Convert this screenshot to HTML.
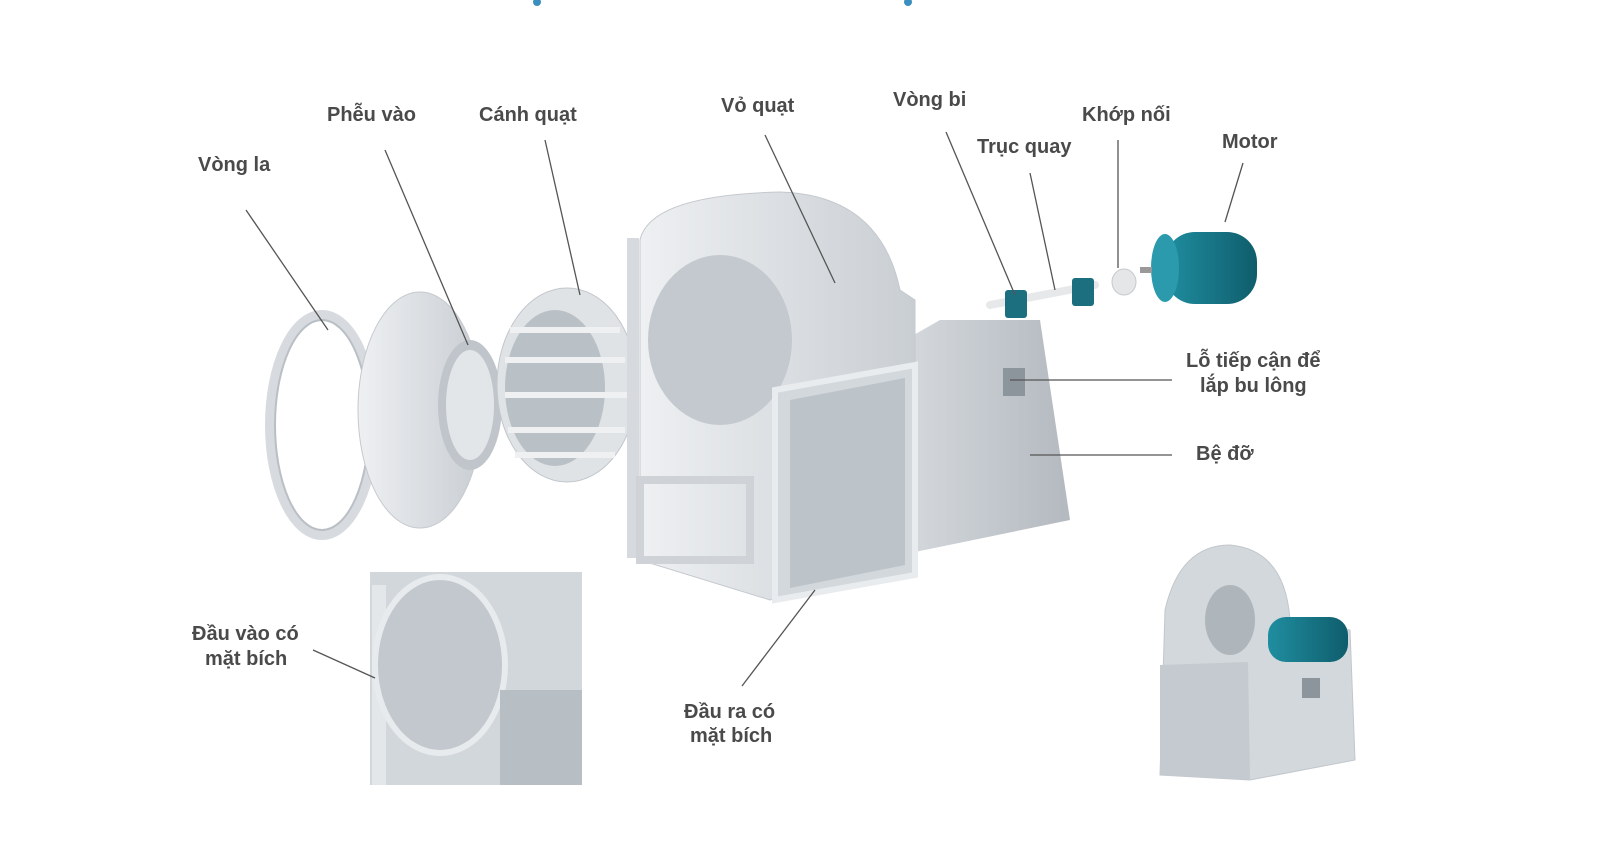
<!DOCTYPE html>
<html><head><meta charset="utf-8"><style>
html,body{margin:0;padding:0;background:#fff;width:1600px;height:850px;overflow:hidden}
svg{display:block}
text{font-family:"Liberation Sans",sans-serif;font-weight:bold;font-size:20px;fill:#4a4a4a}
</style></head><body>
<svg width="1600" height="850" viewBox="0 0 1600 850" xmlns="http://www.w3.org/2000/svg">
<defs>
<linearGradient id="g1" x1="0" x2="1"><stop offset="0" stop-color="#eef0f2"/><stop offset="1" stop-color="#c9ced3"/></linearGradient>
<linearGradient id="g2" x1="0" x2="1"><stop offset="0" stop-color="#d5d9dd"/><stop offset="1" stop-color="#b3b9bf"/></linearGradient>
<linearGradient id="tl" x1="0" x2="1"><stop offset="0" stop-color="#1f8ea0"/><stop offset="1" stop-color="#0f5d6c"/></linearGradient>
</defs>
<circle cx="537" cy="2" r="4" fill="#3a8fc0"/><circle cx="908" cy="2" r="4" fill="#3a8fc0"/>
<!-- ring -->
<ellipse cx="322" cy="425" rx="52" ry="110" fill="none" stroke="#d7dbdf" stroke-width="10"/>
<ellipse cx="322" cy="425" rx="47" ry="105" fill="none" stroke="#b9bfc5" stroke-width="2"/>
<!-- flange -->
<ellipse cx="420" cy="410" rx="62" ry="118" fill="url(#g1)" stroke="#c4c9ce"/>
<ellipse cx="470" cy="405" rx="32" ry="65" fill="#bfc5ca"/>
<ellipse cx="470" cy="405" rx="24" ry="55" fill="#e3e6e9"/>
<!-- impeller -->
<ellipse cx="567" cy="385" rx="70" ry="97" fill="#dfe3e6" stroke="#c2c7cc"/>
<ellipse cx="555" cy="388" rx="50" ry="78" fill="#b9c0c6"/>
<g stroke="#eef0f2" stroke-width="6"><line x1="510" y1="330" x2="620" y2="330"/><line x1="505" y1="360" x2="625" y2="360"/><line x1="505" y1="395" x2="628" y2="395"/><line x1="508" y1="430" x2="625" y2="430"/><line x1="515" y1="455" x2="615" y2="455"/></g>
<!-- pedestal -->
<polygon points="905,340 940,320 1040,320 1070,520 915,552" fill="url(#g2)"/>
<rect x="1003" y="368" width="22" height="28" fill="#8d959c"/>
<!-- housing -->
<path d="M640,240 Q650,195 780,192 Q880,195 900,290 L915,300 L915,560 L770,600 L640,560 Z" fill="url(#g1)" stroke="#c4c9ce"/>
<rect x="627" y="238" width="12" height="320" fill="#d6dade"/>
<ellipse cx="720" cy="340" rx="72" ry="85" fill="#c3c9ce"/>
<rect x="640" y="480" width="110" height="80" fill="none" stroke="#cfd3d7" stroke-width="8"/>
<!-- outlet -->
<polygon points="775,390 915,365 915,575 775,600" fill="#d3d8dc" stroke="#e9ecee" stroke-width="6"/>
<polygon points="790,400 905,378 905,565 790,588" fill="#bcc3c9"/>
<!-- shaft -->
<line x1="990" y1="305" x2="1095" y2="285" stroke="#e6e8ea" stroke-width="8" stroke-linecap="round"/>
<rect x="1005" y="290" width="22" height="28" rx="3" fill="#1b6f7e"/>
<rect x="1072" y="278" width="22" height="28" rx="3" fill="#1b6f7e"/>
<ellipse cx="1124" cy="282" rx="12" ry="13" fill="#e4e6e8" stroke="#c6cacd"/>
<!-- motor -->
<rect x="1165" y="232" width="92" height="72" rx="30" fill="url(#tl)"/>
<ellipse cx="1165" cy="268" rx="14" ry="34" fill="#2a9aac"/>
<line x1="1140" y1="270" x2="1152" y2="270" stroke="#999" stroke-width="6"/>
<!-- inset left -->
<rect x="370" y="572" width="212" height="213" fill="#d2d7db"/>
<rect x="372" y="585" width="14" height="200" fill="#e4e7ea"/>
<ellipse cx="440" cy="665" rx="65" ry="88" fill="#c2c8cd" stroke="#e8ebed" stroke-width="6"/>
<rect x="500" y="690" width="82" height="95" fill="#b7bec4"/>
<!-- inset right -->
<path d="M1165,610 Q1180,545 1230,545 Q1285,550 1290,620 L1350,630 L1355,760 L1250,780 L1160,775 Z" fill="#d3d8dc" stroke="#c2c7cc"/>
<polygon points="1160,665 1248,662 1250,780 1160,775" fill="#c4cacf"/>
<ellipse cx="1230" cy="620" rx="25" ry="35" fill="#aeb5bb"/>
<rect x="1268" y="617" width="80" height="45" rx="18" fill="url(#tl)"/>
<rect x="1302" y="678" width="18" height="20" fill="#8d959c"/>
<!-- leader lines -->
<g stroke="#555" stroke-width="1.3" fill="none">
<line x1="246" y1="210" x2="328" y2="330"/>
<line x1="385" y1="150" x2="468" y2="345"/>
<line x1="545" y1="140" x2="580" y2="295"/>
<line x1="765" y1="135" x2="835" y2="283"/>
<line x1="946" y1="132" x2="1015" y2="295"/>
<line x1="1030" y1="173" x2="1055" y2="290"/>
<line x1="1118" y1="140" x2="1118" y2="268"/>
<line x1="1243" y1="163" x2="1225" y2="222"/>
<line x1="1010" y1="380" x2="1172" y2="380"/>
<line x1="1030" y1="455" x2="1172" y2="455"/>
<line x1="313" y1="650" x2="375" y2="678"/>
<line x1="742" y1="686" x2="815" y2="590"/>
</g>
<text x="198" y="171">Vòng la</text>
<text x="327" y="121">Phễu vào</text>
<text x="479" y="121">Cánh quạt</text>
<text x="721" y="112">Vỏ quạt</text>
<text x="893" y="106">Vòng bi</text>
<text x="977" y="153">Trục quay</text>
<text x="1082" y="121">Khớp nối</text>
<text x="1222" y="148">Motor</text>
<text x="1186" y="367">Lỗ tiếp cận để</text>
<text x="1200" y="392">lắp bu lông</text>
<text x="1196" y="460">Bệ đỡ</text>
<text x="192" y="640">Đầu vào có</text>
<text x="205" y="665">mặt bích</text>
<text x="684" y="718">Đầu ra có</text>
<text x="690" y="742">mặt bích</text>
</svg>
</body></html>
